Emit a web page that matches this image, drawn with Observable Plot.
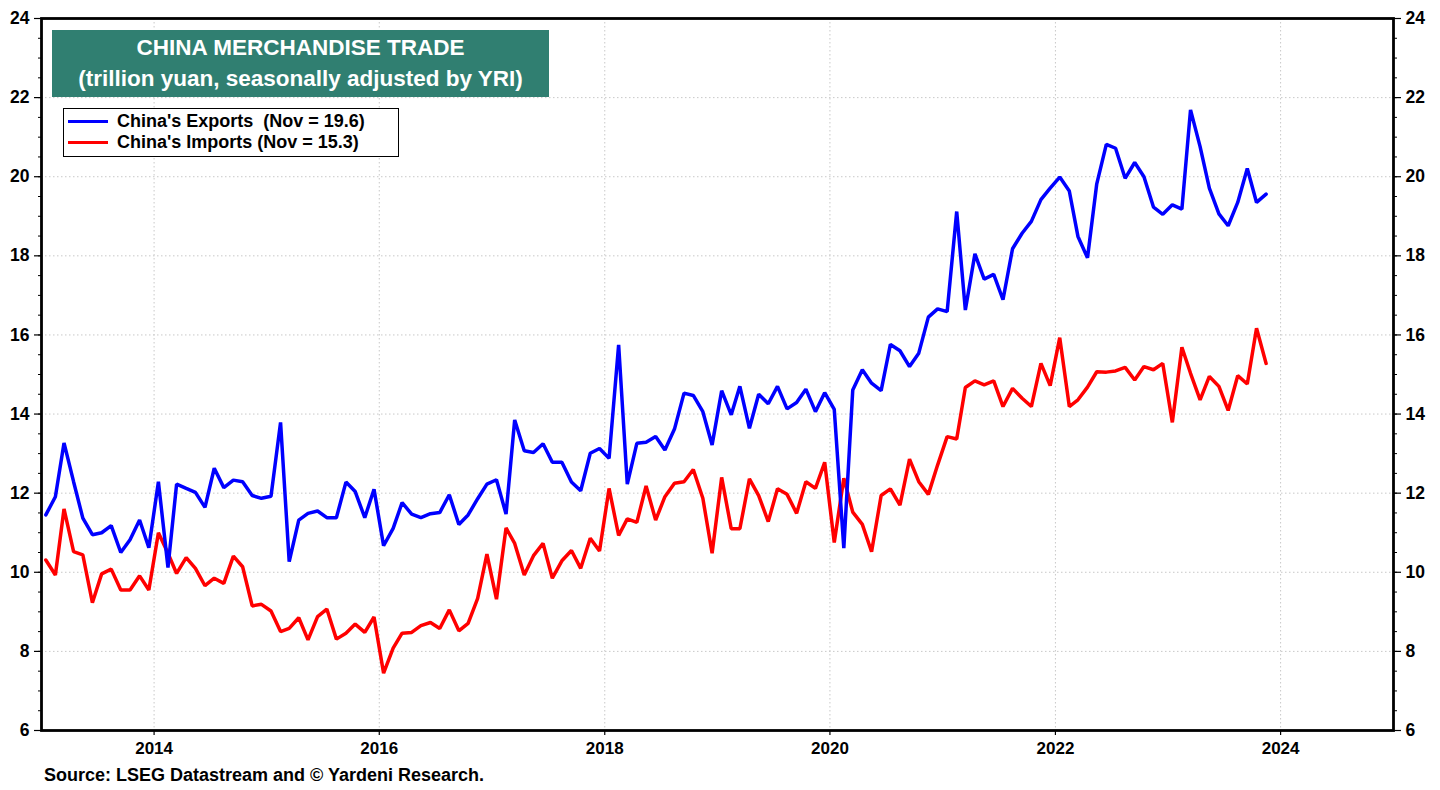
<!DOCTYPE html>
<html>
<head>
<meta charset="utf-8">
<script src="https://cdn.jsdelivr.net/npm/d3@7"></script>
<script src="https://cdn.jsdelivr.net/npm/@observablehq/plot@0.6"></script>
<style>
  html, body { margin: 0; padding: 0; background: #fff; }
  body { font-family: "Liberation Sans", Arial, sans-serif; }
  #wrap { position: relative; width: 1440px; height: 790px; }
  #title {
    position: absolute; left: 52px; top: 30px; width: 497px; height: 67px;
    background: #307f71; color: #fff; font-weight: bold; font-size: 22.5px;
    text-align: center; line-height: 31px; padding-top: 2px; box-sizing: border-box;
  }
  #legend {
    position: absolute; left: 63px; top: 108px; width: 336px; height: 49px;
    border: 1.5px solid #000; background: #fff; box-sizing: border-box;
    font-weight: bold; font-size: 18px;
  }
  .row { position: absolute; left: 4px; height: 21px; line-height: 21px; white-space: pre; }
  .sw { display: inline-block; width: 40px; height: 3.5px; vertical-align: middle; margin-right: 9px; position: relative; top: -1px; }
  #source {
    position: absolute; left: 44px; top: 765px; font-weight: bold; font-size: 18px;
  }
</style>
</head>
<body>
<div id="wrap">
  <div id="chart"></div>
  <div id="title">CHINA MERCHANDISE TRADE<br>(trillion yuan, seasonally adjusted by YRI)</div>
  <div id="legend"></div>
  <div id="source">Source: LSEG Datastream and © Yardeni Research.</div>
</div>
<script>
// Monthly values, Jan 2013 .. Nov 2023 (trillion yuan, SAAR)
const startYear = 2013;
const exportsValues = [
  11.45, 11.91, 13.27, 12.29, 11.37, 10.95, 11.00, 11.18, 10.50, 10.82, 11.32, 10.62,
  12.29, 10.12, 12.23, 12.12, 12.02, 11.64, 12.63, 12.14, 12.33, 12.29, 11.94, 11.87,
  11.92, 13.79, 10.27, 11.32, 11.49, 11.55, 11.38, 11.38, 12.28, 12.04, 11.38, 12.10,
  10.67, 11.11, 11.76, 11.47, 11.38, 11.48, 11.51, 11.96, 11.21, 11.45, 11.86, 12.23,
  12.34, 11.47, 13.85, 13.07, 13.03, 13.25, 12.78, 12.78, 12.28, 12.06, 13.01, 13.13,
  12.88, 15.75, 12.23, 13.26, 13.29, 13.43, 13.09, 13.62, 14.53, 14.47, 14.06, 13.22,
  14.59, 13.98, 14.70, 13.64, 14.50, 14.26, 14.70, 14.13, 14.29, 14.63, 14.06, 14.54,
  14.12, 10.61, 14.61, 15.12, 14.78, 14.59, 15.76, 15.60, 15.20, 15.54, 16.45, 16.66,
  16.59, 19.12, 16.63, 18.05, 17.41, 17.53, 16.89, 18.18, 18.57, 18.87, 19.42, 19.71,
  19.99, 19.64, 18.49, 17.95, 19.82, 20.82, 20.72, 19.96, 20.36, 20.00, 19.23, 19.05,
  19.29, 19.18, 21.69, 20.76, 19.71, 19.06, 18.76, 19.35, 20.21, 19.35, 19.56
];
const importsValues = [
  10.31, 9.93, 11.60, 10.52, 10.44, 9.23, 9.96, 10.08, 9.55, 9.55, 9.91, 9.55,
  11.00, 10.48, 9.97, 10.37, 10.10, 9.66, 9.85, 9.72, 10.41, 10.14, 9.15, 9.19,
  9.02, 8.50, 8.58, 8.85, 8.29, 8.88, 9.07, 8.31, 8.46, 8.69, 8.48, 8.87,
  7.45, 8.08, 8.46, 8.48, 8.65, 8.73, 8.58, 9.05, 8.52, 8.71, 9.34, 10.46,
  9.32, 11.12, 10.73, 9.93, 10.42, 10.73, 9.85, 10.29, 10.55, 10.10, 10.86, 10.54,
  12.12, 10.93, 11.35, 11.26, 12.18, 11.32, 11.91, 12.25, 12.29, 12.60, 11.87, 10.48,
  12.40, 11.10, 11.10, 12.36, 11.94, 11.28, 12.11, 11.97, 11.49, 12.29, 12.12, 12.78,
  10.75, 12.38, 11.52, 11.21, 10.52, 11.94, 12.11, 11.70, 12.86, 12.29, 11.97, 12.71,
  13.43, 13.37, 14.67, 14.84, 14.74, 14.84, 14.19, 14.65, 14.40, 14.19, 15.28, 14.72,
  15.93, 14.19, 14.36, 14.68, 15.07, 15.06, 15.09, 15.18, 14.86, 15.20, 15.12, 15.28,
  13.79, 15.69, 15.03, 14.36, 14.95, 14.70, 14.09, 14.97, 14.76, 16.17, 15.28
];
const seriesNames = ["China's Exports  (Nov = 19.6)", "China's Imports (Nov = 15.3)"];
const seriesColors = ["#0000ff", "#ff0000"];
const yTicks = [6, 8, 10, 12, 14, 16, 18, 20, 22, 24];
const xTickYears = [2014, 2016, 2018, 2020, 2022, 2024];

const toDate = (i) => new Date(Date.UTC(startYear, i, 15));
const exportsData = exportsValues.map((v, i) => ({date: toDate(i), value: v}));
const importsData = importsValues.map((v, i) => ({date: toDate(i), value: v}));
const xTicks = xTickYears.map(y => new Date(Date.UTC(y, 0, 1)));
const minorY = d3.range(6, 24.001, 0.5);

const font = "Liberation Sans, Arial, sans-serif";
const chart = Plot.plot({
  width: 1440,
  height: 790,
  marginLeft: 41,
  marginRight: 47,
  marginTop: 18,
  marginBottom: 60,
  style: {fontFamily: font, background: "#fff", overflow: "visible"},
  x: {type: "utc", domain: [new Date(Date.UTC(2013, 0, 1)), new Date(Date.UTC(2025, 0, 1))]},
  y: {domain: [6, 24]},
  marks: [
    Plot.gridY(yTicks, {stroke: "#c8c8c8", strokeOpacity: 1, strokeDasharray: "1.5,2.5", strokeWidth: 1}),
    Plot.gridX(xTicks, {stroke: "#c8c8c8", strokeOpacity: 1, strokeDasharray: "1.5,2.5", strokeWidth: 1}),
    Plot.axisY(minorY, {anchor: "left", tickSize: 3, text: null, label: null, strokeWidth: 1}),
    Plot.axisY(minorY, {anchor: "right", tickSize: 3, text: null, label: null, strokeWidth: 1}),
    Plot.axisY(yTicks, {anchor: "left", tickSize: 7, tickPadding: 5, fontSize: 17.5, fontWeight: "bold", label: null, strokeWidth: 1.2}),
    Plot.axisY(yTicks, {anchor: "right", tickSize: 7, tickPadding: 5, fontSize: 17.5, fontWeight: "bold", label: null, strokeWidth: 1.2}),
    Plot.axisX(xTicks, {anchor: "bottom", tickSize: 5, tickPadding: 6, fontSize: 17, fontWeight: "bold", tickFormat: "%Y", label: null, strokeWidth: 1.2}),
    Plot.line(importsData, {x: "date", y: "value", stroke: seriesColors[1], strokeWidth: 3.5, strokeLinejoin: "miter", curve: "linear"}),
    Plot.line(exportsData, {x: "date", y: "value", stroke: seriesColors[0], strokeWidth: 3.5, strokeLinejoin: "miter", curve: "linear"}),
    Plot.frame({stroke: "#000", strokeWidth: 2.8})
  ]
});
chart.style.color = "#000";
document.getElementById("chart").appendChild(chart);

const legend = document.getElementById("legend");
seriesNames.forEach((name, i) => {
  const row = document.createElement("div");
  row.className = "row";
  row.style.top = (i === 0 ? 2 : 23) + "px";
  const sw = document.createElement("span");
  sw.className = "sw";
  sw.style.background = seriesColors[i];
  row.appendChild(sw);
  row.appendChild(document.createTextNode(name));
  legend.appendChild(row);
});
</script>
</body>
</html>
